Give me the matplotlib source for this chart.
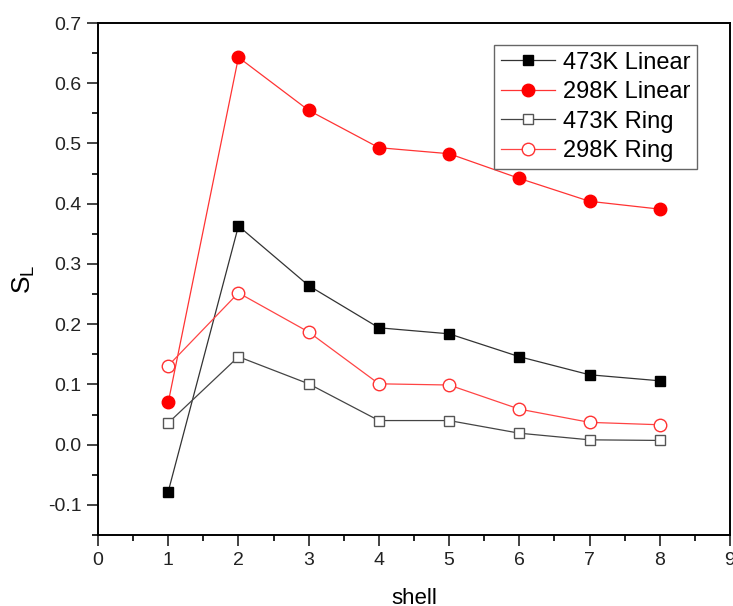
import matplotlib.pyplot as plt
from matplotlib.ticker import MultipleLocator

plt.rcParams['font.family'] = ['Liberation Sans', 'DejaVu Sans']

# Datos
shell = [1, 2, 3, 4, 5, 6, 7, 8]
linear_473 = [-0.078, 0.363, 0.264, 0.194, 0.184, 0.146, 0.116, 0.106]
linear_298 = [0.070, 0.643, 0.555, 0.493, 0.483, 0.442, 0.404, 0.391]
ring_473 = [0.036, 0.146, 0.101, 0.040, 0.040, 0.019, 0.008, 0.007]
ring_298 = [0.131, 0.252, 0.187, 0.101, 0.099, 0.059, 0.037, 0.033]

fig = plt.figure(figsize=(7.33, 6.06), dpi=100)
ax = fig.add_axes([98 / 733, 1 - 535 / 606, 632 / 733, 512 / 606])

ax.plot(shell, linear_473, color='#333333', lw=0.9, marker='s', ms=7.5,
        mfc='black', mec='black', label='473K Linear')
ax.plot(shell, linear_298, color='#ff3333', lw=0.9, marker='o', ms=9,
        mfc='#ff0000', mec='#ff0000', label='298K Linear')
ax.plot(shell, ring_473, color='#444444', lw=0.9, marker='s', ms=7.5,
        mfc='white', mec='#555555', mew=1.0, label='473K Ring')
ax.plot(shell, ring_298, color='#ff4444', lw=0.9, marker='o', ms=9,
        mfc='white', mec='#ff3333', mew=1.0, label='298K Ring')

ax.set_xlim(0, 9)
ax.set_ylim(-0.15, 0.7)
ax.xaxis.set_major_locator(MultipleLocator(1))
ax.xaxis.set_minor_locator(MultipleLocator(0.5))
ax.yaxis.set_major_locator(MultipleLocator(0.1))
ax.yaxis.set_minor_locator(MultipleLocator(0.05))
ax.yaxis.set_major_formatter(plt.FormatStrFormatter('%.1f'))

ax.tick_params(which='major', direction='out', length=8, width=1.2, pad=4,
               labelsize=14, top=False, right=False, colors='#222222')
ax.tick_params(which='minor', direction='out', length=4, width=1.2,
               top=False, right=False)
for s in ax.spines.values():
    s.set_linewidth(1.4)

ax.set_xlabel('shell', fontsize=16, labelpad=14)
ax.set_ylabel('S$_\\mathregular{L}$', fontsize=19, labelpad=8)

leg = ax.legend(loc='upper right', bbox_to_anchor=(0.948, 0.958), fontsize=17,
                fancybox=False, edgecolor='#666666', framealpha=1,
                handlelength=2.3, handletextpad=0.3, borderpad=0.3,
                labelspacing=0.32, borderaxespad=0)
leg.get_frame().set_linewidth(1.0)

fig.savefig('out.png', dpi=100)
